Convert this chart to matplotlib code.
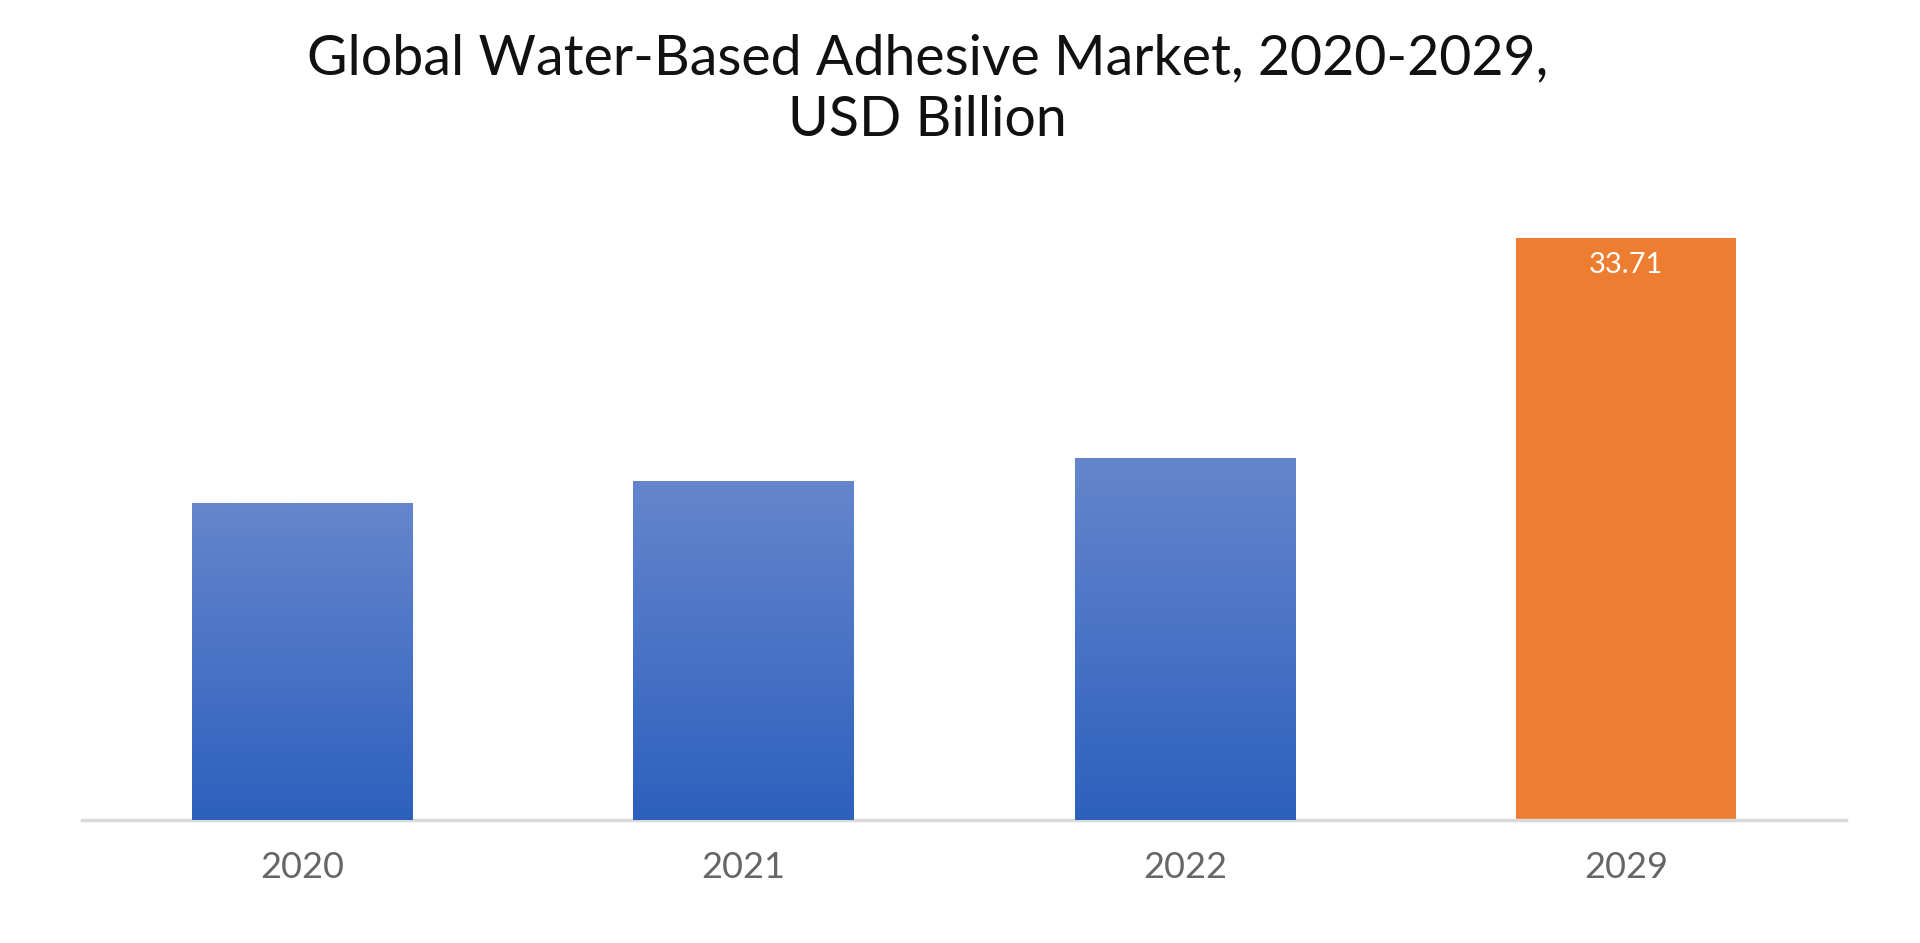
import matplotlib
matplotlib.use("Agg")
import matplotlib.pyplot as plt
import numpy as np
from matplotlib.colors import LinearSegmentedColormap

years = ["2020", "2021", "2022", "2029"]
values = [18.34, 19.62, 20.96, 33.71]
labels = ["", "", "", "33.71"]

plt.rcParams['font.family'] = ['Lato', 'DejaVu Sans']
fig = plt.figure(figsize=(19.2, 9.43), dpi=100)
ax = fig.add_axes([0.0427, 0.13, 0.919, 0.675])
x = np.arange(len(years))
bars = ax.bar(x, values, width=0.5, color=["#3f6ec6"]*3 + ["#ed7d31"], zorder=2)
cmap = LinearSegmentedColormap.from_list("g", ["#2d60bd", "#6586cd"])
grad = np.linspace(0, 1, 256).reshape(-1, 1)
for i, b in enumerate(bars):
    if i < 3:
        im = ax.imshow(grad, cmap=cmap, origin="lower", aspect="auto",
                       extent=[b.get_x(), b.get_x()+b.get_width(), 0, b.get_height()], zorder=3)
        im.set_clip_path(b)
    if labels[i]:
        ax.text(b.get_x()+b.get_width()/2, b.get_height()-1.6, labels[i], ha="center", va="center",
                color="white", fontsize=21, zorder=4)
ax.set_xlim(-0.5, 3.5)
ax.set_ylim(0, 36.83)
ax.set_xticks(x)
ax.set_xticklabels(years, fontsize=26, color="#666666")
ax.tick_params(axis="x", length=0, pad=22)
ax.set_yticks([])
for s in ["top", "right", "left"]:
    ax.spines[s].set_visible(False)
ax.spines["bottom"].set_color("#d9d9d9")
ax.spines["bottom"].set_linewidth(2.5)
fig.text(0.483, 0.905, "Global Water-Based Adhesive Market, 2020-2029,\nUSD Billion",
         ha="center", va="center", fontsize=40, color="#111111", linespacing=1.25)
fig.savefig("out.png", dpi=100)
